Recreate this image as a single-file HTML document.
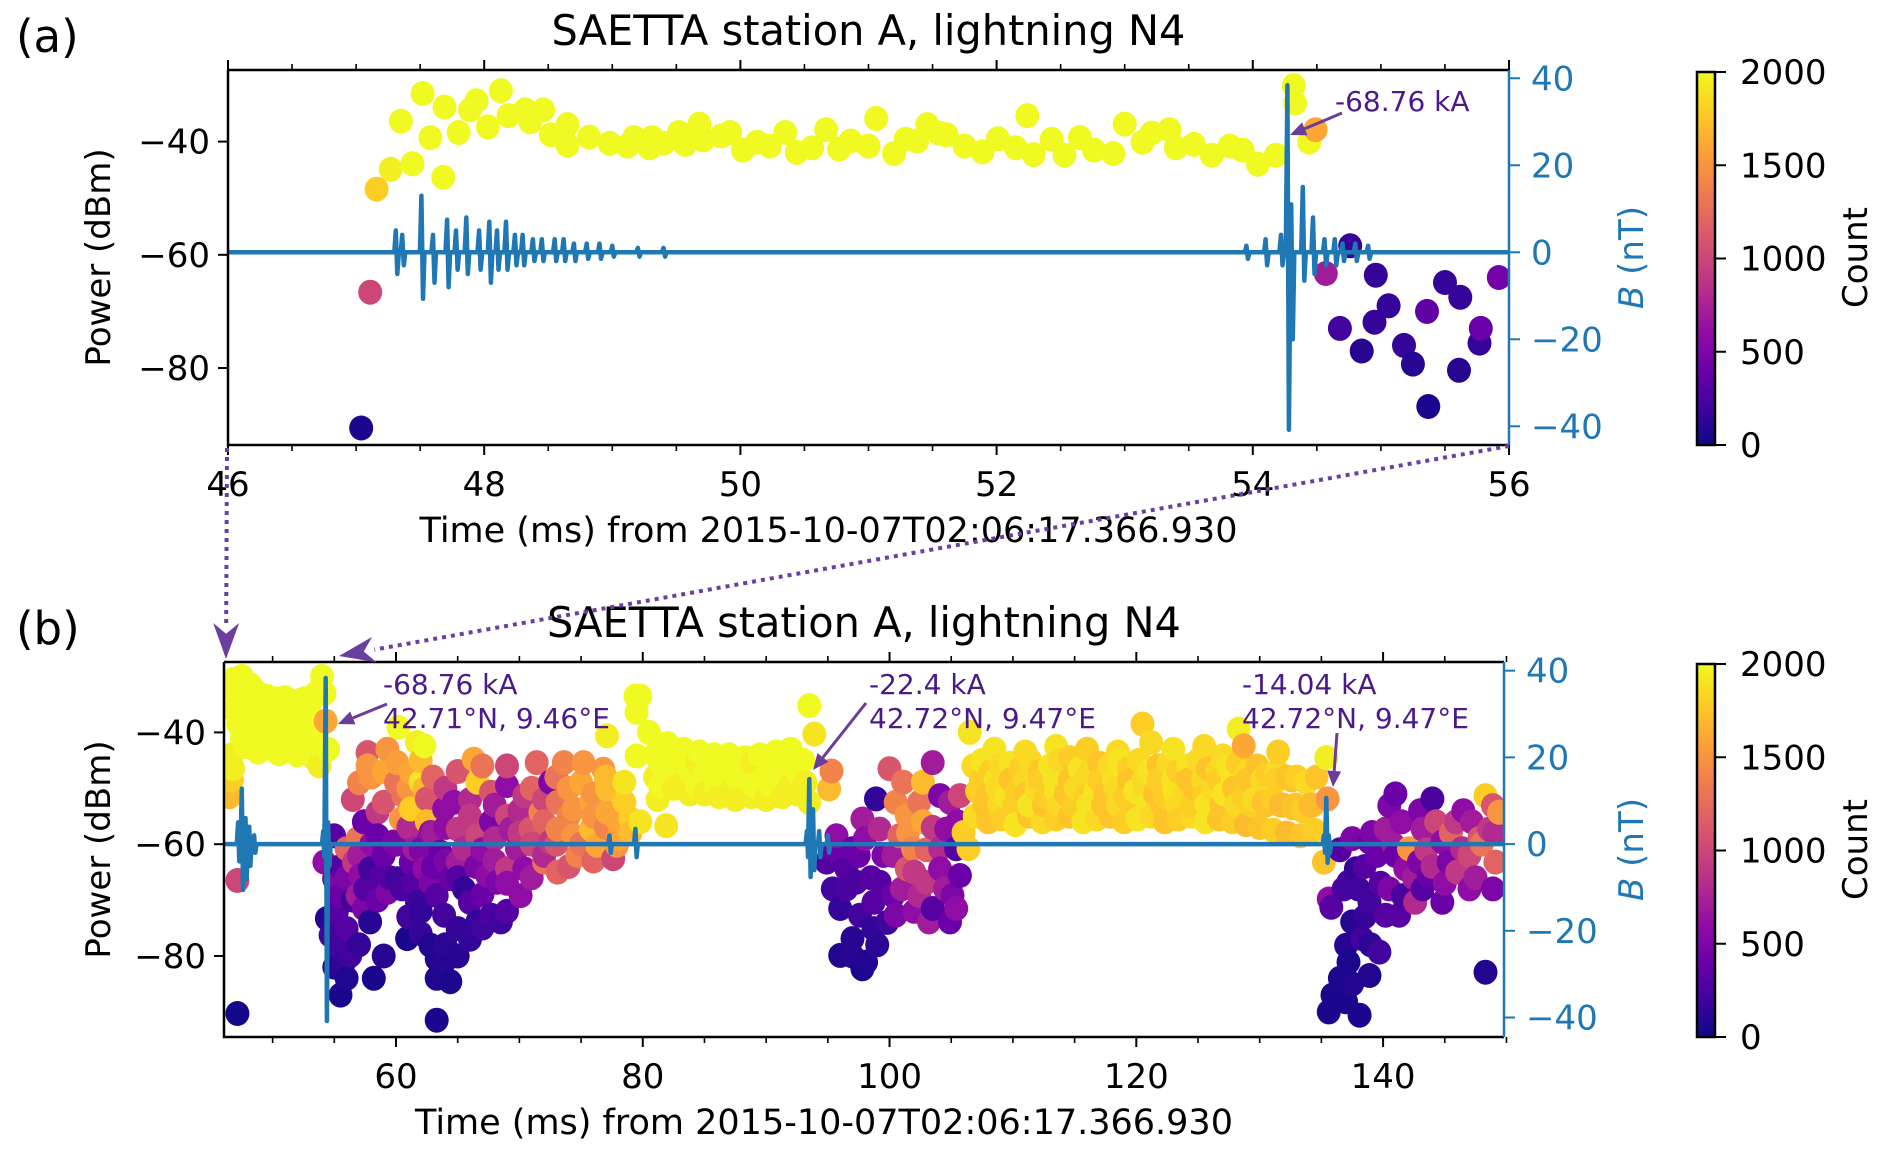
<!DOCTYPE html>
<html><head><meta charset="utf-8"><style>
html,body{margin:0;padding:0;background:#fff;}
svg{display:block;font-family:"DejaVu Sans","Liberation Sans",sans-serif;}
</style></head><body>
<svg id="fig" width="1892" height="1159" viewBox="0 0 1892 1159" xmlns="http://www.w3.org/2000/svg">
<defs>
<linearGradient id="plasma" x1="0" y1="1" x2="0" y2="0">
<stop offset="0" stop-color="#0d0887"/><stop offset="0.1" stop-color="#41049d"/><stop offset="0.2" stop-color="#6a00a8"/><stop offset="0.3" stop-color="#8f0da4"/><stop offset="0.4" stop-color="#b12a90"/><stop offset="0.5" stop-color="#cc4778"/><stop offset="0.6" stop-color="#e16462"/><stop offset="0.7" stop-color="#f2844b"/><stop offset="0.8" stop-color="#fca636"/><stop offset="0.9" stop-color="#fcce25"/><stop offset="1" stop-color="#f0f921"/>
</linearGradient>
<clipPath id="clipA"><rect x="228" y="70" width="1281" height="375"/></clipPath>
<clipPath id="clipB"><rect x="224" y="662" width="1280" height="375"/></clipPath>
</defs>
<g id="root"></g>
</svg>
<script>
// ---------- Panel (a) data ----------
const aScatterT = [47.04,47.11,47.16,47.27,47.44,47.35,47.52,47.58,47.68,47.69,47.80,47.89,47.94,48.03,48.13,48.19,48.32,48.36,48.46,48.52,48.65,48.65,48.82,48.98,49.12,49.17,49.29,49.31,49.40,49.52,49.57,49.68,49.71,49.85,49.92,50.02,50.13,50.23,50.35,50.44,50.56,50.67,50.77,50.86,51.00,51.06,51.20,51.29,51.38,51.46,51.55,51.61,51.75,51.89,52.01,52.15,52.24,52.29,52.43,52.53,52.65,52.76,52.91,53.00,53.14,53.21,53.35,53.40,53.54,53.68,53.82,53.92,54.04,54.18,54.32,54.33,54.44,54.49,54.57,54.76,54.96,54.68,55.06,54.95,54.85,55.18,55.25,55.36,55.37,55.50,55.62,55.61,55.78,55.77,55.92];
const aScatterP = [-90.6,-66.6,-48.4,-44.9,-43.9,-36.4,-31.5,-39.3,-46.3,-33.9,-38.4,-34.4,-32.8,-37.4,-31.0,-35.4,-34.4,-36.5,-34.4,-38.8,-37.0,-40.6,-39.2,-40.3,-40.8,-39.3,-41.1,-39.3,-40.3,-38.4,-40.5,-36.9,-39.7,-39.0,-38.4,-41.5,-40.1,-40.8,-38.4,-41.9,-41.1,-37.9,-41.3,-39.9,-40.8,-35.9,-42.1,-39.6,-39.9,-37.0,-38.5,-38.8,-40.8,-41.8,-39.5,-41.1,-35.4,-42.3,-39.6,-42.4,-39.3,-41.5,-42.1,-36.9,-40.1,-38.5,-37.9,-41.1,-40.5,-42.4,-40.8,-41.5,-44.0,-42.4,-30.1,-33.2,-40.1,-37.9,-63.3,-58.4,-63.6,-73.0,-69.0,-71.9,-77.0,-76.0,-79.3,-70.0,-86.8,-64.9,-67.5,-80.4,-73.0,-75.6,-64.0];
const aScatterC = [50,1000,1800,1950,2000,2000,2000,2000,2000,2000,2000,2000,2000,2000,2000,2000,2000,2000,2000,2000,2000,2000,2000,2000,2000,2000,2000,2000,2000,2000,2000,2000,2000,2000,2000,2000,2000,2000,2000,2000,2000,2000,2000,2000,2000,2000,2000,2000,2000,2000,2000,2000,2000,2000,2000,2000,2000,2000,2000,2000,2000,2000,2000,2000,2000,2000,2000,2000,2000,2000,2000,2000,2000,2000,2000,2000,2000,1600,700,150,150,200,150,150,100,150,100,350,50,150,150,100,400,150,450];
const aSpikeT = [47.31,47.36,47.51,47.60,47.71,47.78,47.86,47.96,48.04,48.10,48.17,48.24,48.30,48.38,48.45,48.55,48.62,48.70,48.80,48.90,49.00,49.20,49.40,53.95,54.10,54.22,54.27,54.30,54.39,54.47,54.56,54.64,54.70,54.80,54.90];
const aSpikeUp = [5,4,13,4,7.5,5,8,5,7,5,7,4,4,3,3,3,3,2,2,2,1.5,1,1,1.5,3,4,38.4,11,15,8,3,3,2,2,1.5];
const aSpikeDown = [-5,-3,-10.7,-7,-8,-4,-5,-4,-7,-4,-4,-3,-3,-2,-2,-2,-2,-2,-1.5,-1.5,-1,-1,-1,-1.5,-3,-3,-40.8,-20,-6.5,-5,-3,-3,-2,-2,-1.5];
const aXTicks = [46,48,50,52,54,56];
const aYTicks = [-40,-60,-80];
const bnTicks = [40,20,0,-20,-40];
const cbTicks = [0,500,1000,1500,2000];

// ---------- Panel (b) data ----------
const bScatterT = [
46.8,47.5,48.2,47.0,47.8,48.8,49.5,50.3,51.0,51.8,52.5,53.0,46.9,47.6,48.5,49.3,50.1,50.9,51.6,52.3,53.1,47.2,48.0,48.9,49.7,50.5,51.3,52.1,52.9,53.6,47.5,48.4,49.2,50.0,50.8,51.7,52.5,53.4,48.8,50.5,52.0,53.3,54.0,54.2,54.3,54.5,53.8,46.7,46.8,46.7,46.5,60.2,62.3,61.7,62.0,47.15,47.15,
57.7,57.7,59.3,60.1,61.2,62.3,62.5,60.6,59.0,58.5,57.4,56.9,60.4,61.2,62.5,63.9,64.7,66.3,66.6,67.7,69.0,70.4,71.4,72.5,73.6,75.2,76.8,73.1,74.4,75.8,77.1,78.5,79.0,77.9,77.6,73.1,72.0,70.4,69.8,69.0,68.2,70.1,67.4,67.7,66.6,65.5,65.0,64.4,65.5,66.0,67.7,68.5,66.6,65.0,63.9,63.3,62.8,62.3,61.2,61.7,60.9,62.8,63.3,63.9,63.3,64.4,63.3,58.2,55.5,55.8,56.3,55.2,54.7,54.4,55.2,56.0,55.5,54.98,54.2,54.98,56.0,56.6,57.1,56.9,57.4,57.9,58.8,57.9,59.3,60.1,59.8,58.5,60.9,62.8,61.5,63.6,65.0,69.3,70.9,71.7,74.4,75.8,77.1,78.5,73.1,72.5,74.7,76.3,
79.4,79.5,77.1,79.8,79.5,79.8,81.9,80.5,81.0,81.0,81.2,82.0,82.5,82.5,83.3,83.8,83.8,84.6,85.0,85.0,85.8,86.2,86.2,87.0,87.5,87.5,88.3,88.8,88.8,89.5,90.0,90.0,90.8,91.3,91.3,92.0,92.5,92.5,93.0,93.2,93.5,93.5,93.9,95.3,95.1,
95.7,94.9,95.4,96.5,97.0,97.8,98.9,99.2,97.3,96.0,97.6,98.7,99.2,98.7,97.0,96.0,98.1,97.8,100.0,101.1,100.5,101.4,100.8,100.3,100.3,100.5,101.4,101.9,102.7,102.4,102.7,103.5,104.1,104.9,104.6,104.1,105.4,105.7,105.1,103.5,103.2,102.4,103.0,104.1,105.4,104.9,106.0,106.4,105.7,
106.5,120.5,121.2,128.3,128.7,135.4,135.5,135.2,127.0,
106.8,107.5,108.2,109.0,109.8,110.6,111.4,112.2,113.0,113.8,114.6,115.4,116.2,117.0,117.8,118.6,119.4,120.2,121.0,121.8,122.6,123.4,124.2,125.0,125.8,126.6,127.4,128.2,129.0,129.8,130.6,131.4,132.2,133.0,133.8,134.6,
107.1,107.9,108.7,109.5,110.3,111.1,111.9,112.7,113.5,114.3,115.1,115.9,116.7,117.5,118.3,119.1,119.9,120.7,121.5,122.3,123.1,123.9,124.7,125.5,126.3,127.1,127.9,128.7,129.5,130.3,131.1,131.9,132.7,133.5,134.3,
106.9,108.0,109.1,110.2,111.3,112.4,113.5,114.6,115.7,116.8,117.9,119.0,120.1,121.2,122.3,123.4,124.5,125.6,126.7,127.8,128.9,130.0,131.1,132.2,133.3,134.4,
108.5,111.0,113.5,116.0,118.5,123.0,125.5,131.5,
135.6,135.8,137.2,137.8,138.9,139.1,140.5,144.0,148.3,148.9,137.5,137.0,138.3,139.7,138.9,137.2,135.9,137.0,138.1,135.6,148.3,138.9,140.2,140.5,141.6,142.6,141.8,142.1,143.2,144.3,144.8,145.3,146.4,145.9,147.2,147.8,148.6,149.1,148.9,147.0,144.8,143.7,143.2,141.3,142.9,141.0,140.2,149.4];
const bScatterP = [
-30.5,-30,-31.5,-33,-34,-33,-33.5,-34,-33.8,-34.5,-34,-35,-36,-36.5,-36,-36.2,-37,-36.5,-37,-36.5,-37.5,-38.5,-39,-38.5,-39,-39.5,-39,-39.8,-39.5,-40,-41,-41.5,-41,-41.8,-41.5,-42,-42,-42.5,-43.5,-43.8,-44,-44.5,-30,-33,-38,-43,-46,-44,-46.5,-48.5,-51.5,-39.1,-42.4,-41.8,-48.9,-66.5,-90.3,
-43.6,-46,-43,-45.4,-47.1,-50.1,-51.9,-51.3,-52.5,-54.3,-56,-59,-55.5,-53.7,-56,-53.7,-52.5,-44.8,-48.9,-50.7,-49.5,-51.3,-45.4,-48.9,-45.4,-45.4,-46.6,-52.5,-53.7,-52.5,-54.3,-52.5,-55.5,-60.2,-62.6,-65,-63.2,-64.4,-60.8,-64.4,-66.8,-69.2,-65.6,-56,-58.5,-60.8,-63.2,-66.2,-68,-70.4,-72.7,-73.9,-73.9,-75.1,-72.7,-69.2,-66.8,-64.4,-63.2,-70.4,-76.9,-78.1,-80.5,-81.1,-84,-84.6,-91.5,-84,-87,-81.1,-79.9,-78.1,-76.3,-73.3,-72.1,-75.1,-69.2,-66.2,-63.2,-58.5,-60.8,-63.2,-65.6,-69.2,-71.5,-73.9,-65.6,-64.4,-68.6,-66.2,-59.6,-58.5,-58.5,-57.9,-60.8,-61.4,-57.3,-57.3,-57.3,-54.3,-58.5,-57.3,-50.1,-48.9,-57.3,-59.6,-62,-60.2,
-33.5,-36.4,-40.6,-33.5,-44.2,-56,-56.7,-40,-44,-48,-52,-42,-46,-50,-43,-47,-51,-43.5,-47.5,-51,-44,-48,-51.5,-44,-48,-52,-44.5,-48,-51.5,-44,-48,-52,-43.5,-47.5,-51.5,-43,-47,-51,-45,-49,-52.5,-35.2,-40.3,-46.9,-50.1,
-58.5,-63.2,-68,-64.4,-60.8,-55.5,-51.9,-57.3,-66.8,-71.5,-72.7,-70.4,-66.8,-75.1,-76.9,-79.9,-81.1,-82.3,-46.5,-48.9,-52.5,-54.9,-58.5,-62,-69.2,-72.7,-64.4,-60.8,-56,-52.5,-48.9,-45.4,-51.3,-52.5,-57.3,-60.8,-60.8,-65.6,-69.2,-71.5,-73.9,-69.2,-66.8,-64.4,-71.5,-73.9,-57.9,-60.8,-51.3,
-40,-38.5,-41.8,-39.4,-42.4,-44.5,-51.9,-63.2,-44.2,
-46,-45,-47,-46,-45.5,-46.5,-45,-47,-46,-45,-44.5,-46.5,-47,-45.5,-46,-45,-46.5,-45,-47,-46,-45.5,-47,-46,-45,-46.5,-47,-46,-45.5,-47,-46,-47.5,-47,-48,-48,-49,-48,
-50.5,-51,-50,-51.5,-50.5,-51,-50,-51.5,-50.5,-51,-50,-51.5,-50.5,-51,-50,-51.5,-50.5,-50,-51,-51.5,-50.5,-51,-50,-51.5,-50.5,-51,-50,-51.5,-52,-52.5,-52,-53,-53.5,-54,-53,
-55,-56,-55.5,-56.5,-55,-56,-55.5,-55,-56,-55.5,-55,-56,-55.5,-55,-56,-55.5,-55,-56,-55.5,-56,-56.5,-57,-57.5,-58,-58.5,-57.5,
-43,-43.5,-42.5,-43,-43.5,-43,-42.5,-43.5,
-69.8,-71.3,-66.8,-64.4,-59.6,-57.9,-53.1,-51.9,-51.3,-53.1,-73.9,-78.1,-76.9,-79.3,-83.5,-81.1,-87,-88.2,-90.6,-90,-82.9,-70.4,-72.7,-68,-69.2,-70.4,-64.4,-60.8,-57.3,-56,-59.6,-63.2,-60.8,-56,-56,-59,-57.3,-63.2,-68,-68,-70.4,-65.6,-68,-72.7,-63.2,-62,-57.3,-54.3];
const bScatterC = [
2000,2000,2000,2000,2000,2000,2000,2000,2000,2000,2000,2000,2000,2000,2000,2000,2000,2000,2000,2000,2000,2000,2000,2000,2000,2000,2000,2000,2000,2000,2000,2000,2000,2000,2000,2000,2000,2000,2000,2000,2000,2000,2000,2000,1600,2000,1950,1950,1950,1800,1700,2000,2000,1950,1900,1000,30,
1100,1500,1500,1550,1600,1700,1100,1300,1100,900,400,1300,1500,1800,1700,600,600,1600,1800,1100,600,900,1200,500,1400,1500,1500,1300,1500,1600,1600,1800,1800,1500,1000,1200,1300,600,700,900,500,600,600,500,1000,800,700,400,150,300,250,200,150,150,200,300,500,600,400,200,50,80,80,100,80,60,50,50,50,150,200,200,200,100,300,300,400,500,600,300,1200,900,600,700,500,100,300,200,500,200,500,400,500,600,700,400,900,700,1100,1400,1500,1700,1700,1900,1400,900,1400,1600,
2000,2000,1950,2000,2000,1900,1900,2000,2000,1950,1950,2000,2000,1950,2000,2000,1950,2000,2000,1950,2000,2000,1950,2000,2000,1950,2000,2000,1950,2000,2000,1950,2000,2000,1950,2000,2000,1950,2000,1950,1950,2000,1900,1400,1700,
600,300,200,300,400,700,150,800,250,150,200,300,300,150,100,80,80,60,1100,1300,1400,1500,1200,700,400,500,1100,1400,1600,1300,1700,700,500,700,600,800,300,400,500,300,700,800,900,600,600,400,1800,1800,1000,
1900,1800,1850,1950,1600,1950,1500,1750,1850,
1850,1900,1800,1850,1900,1800,1850,1750,1900,1850,1800,1900,1850,1750,1850,1900,1800,1850,1900,1750,1850,1800,1900,1850,1750,1850,1900,1800,1850,1750,1800,1850,1750,1800,1850,1750,
1800,1750,1850,1900,1800,1750,1850,1800,1900,1750,1850,1800,1900,1750,1850,1800,1900,1850,1750,1800,1900,1850,1750,1800,1850,1900,1750,1800,1850,1750,1800,1700,1750,1800,1700,
1850,1750,1800,1900,1750,1850,1800,1750,1900,1850,1750,1800,1900,1850,1750,1800,1850,1900,1750,1800,1700,1750,1800,1700,1750,1800,
1900,1850,1900,1800,1850,1900,1850,1800,
600,300,200,150,400,500,500,250,1800,1100,100,100,200,200,80,60,50,50,50,50,80,200,300,500,250,800,600,1500,700,1000,600,500,800,900,700,1100,900,1200,500,600,400,400,300,300,500,400,700,1500];

// extra source readings (dense parts of panel b)
const bExtraT = [
56.5,57,58,59,60,61,62,63,64,65,66,67,68,69,70,71,72,73,74,75,76,77,78,79,
56,57,58,59,60,61,62,63,64,66,67,68,69,70,71,72,73,74,75,76,77,78,
55.5,56.5,57.5,58.5,59.5,60.5,61.5,62,63,64,65,66.5,67,68,69,71,72,74,76,
55,56,57,59,61,62,64,65,66,67,69,
95.5,96.5,97.5,98.5,99.5,99.8,101,102,102,103,103.5,104.5,105.5,99,97,101.5,98,
136.5,137.5,138.5,139.5,139.8,140.8,141.5,142.5,143.5,144,145,145.5,146,147,147.5,148,149,146.5,143,141,136.8,138,138.5,139,136.5,137.5,
107.4,108.6,109.8,111,112.2,113.4,114.6,115.8,117,118.2,119.4,120.6,121.8,123,124.2,125.4,126.6,127.8,129,130.2,131.4,132.6,
107.7,108.9,110.1,111.3,112.5,113.7,114.9,116.1,117.3,118.5,119.7,120.9,122.1,123.3,124.5,125.7,126.9,128.1,129.3,130.5,131.7,132.9,134.1,
47.3,48.2,49,49.8,50.6,51.4,52.2,53,53.5,47.8,49.5,51.2,52.8,
81.4,82.9,84.4,85.9,87.4,88.9,90.4,91.9,81.4,82.9,84.4,85.9,87.4,88.9,90.4,91.9];
const bExtraP = [
-52,-49,-48,-47,-49,-50,-45,-48,-50,-47,-52,-46,-53,-46,-54,-50,-52,-48,-50,-49,-51,-48,-56,-58,
-66,-62,-60,-62,-60,-57,-61,-58,-57,-55,-61,-59,-55,-58,-60,-56,-60,-55,-60,-55,-57,-59,
-64,-70,-68,-70,-66,-68,-67,-72,-64,-63,-66,-64,-69,-63,-67,-66,-62,-64,-63,
-82,-84,-78,-80,-73,-76,-78,-80,-77,-75,-72,
-61,-68,-62,-66,-62,-74,-68,-65,-72,-61,-57,-68,-56,-78,-80,-58,-59,
-61,-59,-64,-62,-67,-60,-56,-66,-61,-64,-67,-58,-65,-62,-66,-60,-58,-54,-54,-51,-68,-68,-73,-78,-84,-85,
-48.5,-48.5,-48.5,-48.5,-48.5,-48.5,-48.5,-48.5,-48.5,-48.5,-48.5,-48.5,-48.5,-48.5,-48.5,-48.5,-48.5,-48.5,-48.5,-48.5,-48.5,-48.5,
-53,-53,-53,-53,-53,-53,-53,-53,-53,-53,-53,-53,-53,-53,-53,-53,-53,-53,-53,-53,-53,-53,-53,
-35,-37.5,-35,-37.8,-35.5,-37.8,-35.5,-38,-33,-42.5,-42.8,-43,-43.5,
-45.5,-45.5,-45.5,-45.5,-45.5,-45.5,-45.5,-45.5,-49.5,-49.5,-49.5,-49.5,-49.5,-49.5,-49.5,-49.5];
const bExtraC = [
1000,1400,1500,1600,1300,1500,1700,1200,900,1100,800,1300,700,1000,800,1200,1000,1300,1500,1600,1500,1700,1600,1700,
500,700,600,400,500,800,500,700,600,900,600,800,1000,900,1000,1200,1100,1400,1300,1500,1400,1600,
300,200,300,400,300,250,300,150,400,500,300,500,400,700,600,700,800,1100,1200,
100,80,150,100,200,150,120,100,150,200,300,
400,250,400,300,500,200,700,900,600,1200,900,700,600,120,100,1500,600,
300,500,300,400,300,700,600,700,900,800,600,1200,900,1000,700,1300,800,600,500,400,250,200,150,120,60,80,
1800,1900,1750,1850,1800,1900,1750,1850,1800,1900,1750,1850,1800,1900,1750,1850,1800,1900,1750,1850,1800,1750,
1750,1850,1800,1900,1750,1850,1800,1900,1750,1850,1800,1900,1750,1850,1800,1900,1750,1850,1800,1750,1700,1750,1700,
2000,2000,2000,2000,2000,2000,2000,2000,2000,2000,2000,2000,2000,
2000,2000,1950,2000,2000,1950,2000,2000,2000,1950,2000,2000,1950,2000,2000,1950];

const bSpikeT = [47.2,47.5,47.8,48.1,48.5,54.1,54.3,54.5,77.3,79.4,93.3,93.5,93.8,94.3,95.0,135.2,135.4,135.6];
const bSpikeUp = [5,12.8,6,4,2,3,38.3,5,2,3.5,3,15,8,3,2,2,10.6,2];
const bSpikeDown = [-4,-10.6,-8,-5,-2,-3,-40.8,-5,-2,-3,-3,-7.6,-6,-3,-2,-2,-4.3,-2];
const bXTicks = [60,80,100,120,140];
const bMinorX = [50,55,65,70,75,85,90,95,105,110,115,125,130,135,145,150];
const bYTicks = [-40,-60,-80];

// ---------- helpers ----------
const NS = 'http://www.w3.org/2000/svg';
const root = document.getElementById('root');
function mk(tag, attrs, parent, text){
  const e = document.createElementNS(NS, tag);
  for (const k in attrs) e.setAttribute(k, attrs[k]);
  if (text !== undefined) e.textContent = text;
  (parent || root).appendChild(e);
  return e;
}
const plasmaStops = [[13,8,135],[65,4,157],[106,0,168],[143,13,164],[177,42,144],[204,71,120],[225,100,98],[242,132,75],[252,166,54],[252,206,37],[240,249,33]];
function plasma(c){
  let v = Math.max(0, Math.min(1, c/2000)) * 10;
  const i = Math.min(9, Math.floor(v)); const f = v - i;
  const a = plasmaStops[i], b = plasmaStops[i+1];
  return 'rgb(' + [0,1,2].map(k => Math.round(a[k] + (b[k]-a[k])*f)).join(',') + ')';
}
function fmt(v){ return v < 0 ? '\u2212' + Math.abs(v) : String(v); }

function panel(cfg){
  const g = mk('g', {});
  
  
  const X = t => cfg.x0 + (t - cfg.xmin) / (cfg.xmax - cfg.xmin) * (cfg.x1 - cfg.x0);
  const Y = p => cfg.y1 - (p - cfg.ymin) / (cfg.ymax - cfg.ymin) * (cfg.y1 - cfg.y0);
  const YB = b => cfg.y1 - (b - cfg.bmin) / (cfg.bmax - cfg.bmin) * (cfg.y1 - cfg.y0);
  const plot = mk('g', {'clip-path': 'url(#' + cfg.clip + ')'}, g);
  
  
  const sg = mk('g', {}, plot);
  
  
  const idx = cfg.st.map((t, i) => i).sort((a, b) => cfg.st[a] - cfg.st[b]);
  idx.forEach(i => {
    const c = mk('ellipse', {cx: X(cfg.st[i]).toFixed(1), cy: Y(cfg.sp[i]).toFixed(1), rx: 12, ry: 12.5, fill: plasma(cfg.sc[i])}, sg);
    
    
  });
  const pts = [[cfg.xmin, 0]];
  for (let i = 0; i < cfg.wt.length; i++){
    const t = cfg.wt[i], d = cfg.wd;
    pts.push([t - d, 0], [t, cfg.wu[i]], [t + d, cfg.wn[i]], [t + 2*d, 0]);
  }
  pts.push([cfg.xmax, 0]);
  const path = pts.map((p, i) => (i ? 'L' : 'M') + X(p[0]).toFixed(1) + ',' + YB(p[1]).toFixed(1)).join(' ');
  const wl = mk('path', {d: path, fill: 'none', stroke: '#1f77b4', 'stroke-width': 4.5, 'stroke-linejoin': 'round'}, plot);
  
  
  const fr = mk('path', {d: 'M' + cfg.x0 + ',' + cfg.y0 + ' H' + cfg.x1 + ' M' + cfg.x0 + ',' + cfg.y0 + ' V' + cfg.y1 + ' H' + cfg.x1, stroke: '#000', 'stroke-width': 2.5, fill: 'none'}, g);
  
  
  const rsp = mk('line', {x1: cfg.x1, y1: cfg.y0, x2: cfg.x1, y2: cfg.y1, stroke: '#1f77b4', 'stroke-width': 2.5}, g);
  
  
  const xt = mk('g', {}, g);
  
  
  cfg.xticks.forEach(t => {
    const x = X(t);
    mk('line', {x1: x, y1: cfg.y1, x2: x, y2: cfg.y1 + 10, stroke: '#000', 'stroke-width': 2}, xt);
    mk('line', {x1: x, y1: cfg.y0, x2: x, y2: cfg.y0 - 10, stroke: '#000', 'stroke-width': 2}, xt);
    const tl = mk('text', {x: x, y: cfg.y1 + 51, 'font-size': 34, 'text-anchor': 'middle', fill: '#000'}, xt, String(t));
    
    
  });
  cfg.minor.forEach(t => {
    const x = X(t);
    mk('line', {x1: x, y1: cfg.y1, x2: x, y2: cfg.y1 + 6, stroke: '#000', 'stroke-width': 1.6}, xt);
    mk('line', {x1: x, y1: cfg.y0, x2: x, y2: cfg.y0 - 6, stroke: '#000', 'stroke-width': 1.6}, xt);
  });
  const yt = mk('g', {}, g);
  
  
  cfg.yticks.forEach(p => {
    const y = Y(p);
    mk('line', {x1: cfg.x0 - 10, y1: y, x2: cfg.x0, y2: y, stroke: '#000', 'stroke-width': 2}, yt);
    const tl = mk('text', {x: cfg.x0 - 18, y: y + 12, 'font-size': 34, 'text-anchor': 'end', fill: '#000'}, yt, fmt(p));
    
    
  });
  const bt = mk('g', {}, g);
  
  
  cfg.bticks.forEach(b => {
    const y = YB(b);
    mk('line', {x1: cfg.x1, y1: y, x2: cfg.x1 + 11, y2: y, stroke: '#1f77b4', 'stroke-width': 2}, bt);
    const tl = mk('text', {x: cfg.x1 + 22, y: y + 12, 'font-size': 34, fill: '#1f77b4'}, bt, fmt(b));
    
    
  });
  const ttl = mk('text', {x: (cfg.x0 + cfg.x1)/2, y: cfg.y0 - 25, 'font-size': 41.5, 'text-anchor': 'middle'}, g, 'SAETTA station A, lightning N4');
  
  
  const xl = mk('text', {x: (cfg.x0 + cfg.x1)/2 - 40, y: cfg.y1 + 97, 'font-size': 35, 'text-anchor': 'middle'}, g, 'Time (ms) from 2015-10-07T02:06:17.366.930');
  
  
  const cy = (cfg.y0 + cfg.y1)/2;
  const yl = mk('text', {x: 0, y: 0, 'font-size': 34, 'text-anchor': 'middle', transform: 'translate(110,' + cy + ') rotate(-90)'}, g, 'Power (dBm)');
  
  
  const bl = mk('text', {x: 0, y: 0, 'font-size': 34, 'text-anchor': 'middle', fill: '#1f77b4', transform: 'translate(1643,' + cy + ') rotate(-90)'}, g);
  
  
  mk('tspan', {'font-style': 'italic'}, bl, 'B');
  mk('tspan', {}, bl, ' (nT)');
  const cb = mk('g', {}, g);
  
  
  mk('rect', {x: 1697, y: cfg.y0 + 2, width: 18, height: cfg.y1 - cfg.y0 - 2, fill: 'url(#plasma)', stroke: '#000', 'stroke-width': 2.5}, cb);
  cbTicks.forEach(c => {
    const y = cfg.y1 - c / 2000 * (cfg.y1 - cfg.y0 - 2);
    mk('line', {x1: 1715, y1: y, x2: 1726, y2: y, stroke: '#000', 'stroke-width': 2}, cb);
    const tl = mk('text', {x: 1740, y: y + 12, 'font-size': 34}, cb, String(c));
    
    
  });
  const cl = mk('text', {x: 0, y: 0, 'font-size': 34, 'text-anchor': 'middle', transform: 'translate(1867,' + cy + ') rotate(-90)'}, cb, 'Count');
  
  
  const pl = mk('text', {x: 16, y: cfg.y0 - 18, 'font-size': 45}, g, cfg.letter);
  
  
  return {X, Y, YB, g};
}

const aMinor = [];
for (let k = 0; k < aXTicks.length - 1; k++){ aMinor.push(aXTicks[k] + 0.5, aXTicks[k] + 1, aXTicks[k] + 1.5); }

panel({name: 'panel-a', letter: '(a)', clip: 'clipA', x0: 228, x1: 1509, y0: 70, y1: 445, xmin: 46, xmax: 56, ymin: -93.6, ymax: -27.35, bmin: -44.3, bmax: 41.9,
  st: aScatterT, sp: aScatterP, sc: aScatterC, wt: aSpikeT, wu: aSpikeUp, wn: aSpikeDown, wd: 0.012,
  xticks: aXTicks, minor: aMinor, yticks: aYTicks, bticks: bnTicks});
panel({name: 'panel-b', letter: '(b)', clip: 'clipB', x0: 224, x1: 1504, y0: 662, y1: 1037, xmin: 46.06, xmax: 149.8, ymin: -94.5, ymax: -27.4, bmin: -44.5, bmax: 42,
  st: bScatterT.concat(bExtraT), sp: bScatterP.concat(bExtraP), sc: bScatterC.concat(bExtraC), wt: bSpikeT, wu: bSpikeUp, wn: bSpikeDown, wd: 0.1,
  xticks: bXTicks, minor: bMinorX, yticks: bYTicks, bticks: bnTicks});

const ann = mk('g', {});


function arrow(x1, y1, x2, y2, name){
  const a = Math.atan2(y2 - y1, x2 - x1), L = 16, W = 7;
  const bx = x2 - L*Math.cos(a), by = y2 - L*Math.sin(a);
  const ln = mk('line', {x1: x1, y1: y1, x2: bx, y2: by, stroke: '#6a3d9a', 'stroke-width': 3}, ann);
  
  
  const px = -Math.sin(a)*W, py = Math.cos(a)*W;
  mk('polygon', {points: [x2, y2, bx + px, by + py, bx - px, by - py].join(','), fill: '#6a3d9a'}, ann);
}
function label(x, y, lines, name){
  lines.forEach((s, i) => {
    const t = mk('text', {x: x, y: y + i*34, 'font-size': 28, fill: '#4b1a8a'}, ann, s);
    
    
  });
}
label(1335, 111, ['-68.76 kA'], 'annotation-a-peak');
arrow(1342, 113, 1290, 135, 'annotation-arrow');
label(383, 694, ['-68.76 kA', '42.71°N, 9.46°E'], 'annotation-b-stroke1');
arrow(387, 704, 338, 724, 'annotation-arrow');
label(869, 694, ['-22.4 kA', '42.72°N, 9.47°E'], 'annotation-b-stroke2');
arrow(866, 703, 813, 770, 'annotation-arrow');
label(1242, 694, ['-14.04 kA', '42.72°N, 9.47°E'], 'annotation-b-stroke3');
arrow(1337, 733, 1333, 787, 'annotation-arrow');

function dotted(x1, y1, x2, y2, name){
  const a = Math.atan2(y2 - y1, x2 - x1), L = 36, W = 13;
  const bx = x2 - L*Math.cos(a), by = y2 - L*Math.sin(a);
  const ln = mk('line', {x1: x1, y1: y1, x2: bx, y2: by, stroke: '#6b3fa0', 'stroke-width': 4, 'stroke-dasharray': '4 5'});
  
  
  const px = -Math.sin(a)*W, py = Math.cos(a)*W;
  const nx = x2 - 0.7*L*Math.cos(a), ny = y2 - 0.7*L*Math.sin(a);
  const hd = mk('polygon', {points: [x2, y2, bx + px, by + py, nx, ny, bx - px, by - py].join(','), fill: '#6b3fa0'});
  
  
}
dotted(227, 448, 226, 659, 'zoom-connector-left');
dotted(1509, 446, 339, 656, 'zoom-connector-right');
</script>
</body></html>
